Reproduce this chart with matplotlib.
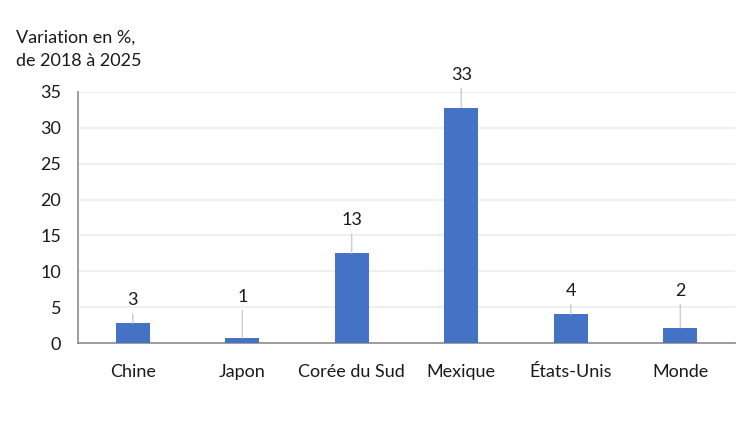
import matplotlib.pyplot as plt
import numpy as np

plt.rcParams['font.family'] = ['Lato', 'DejaVu Sans']

# données
pays = ['Chine', 'Japon', 'Corée du Sud', 'Mexique', 'États-Unis', 'Monde']
variation = [2.75, 0.7, 12.5, 32.8, 4.0, 2.1]
etiquettes = ['3', '1', '13', '33', '4', '2']

# décalage des étiquettes au-dessus des barres (pixels)
decalage = [23, 41, 33, 33, 23, 37]

fig = plt.figure(figsize=(7.5, 4.22), dpi=100)
ax = fig.add_axes([0.104, 0.1872, 0.876, 0.595])

x = np.arange(len(pays))
ax.bar(x, variation, width=0.31, color='#4472C4', zorder=3)

for xi, v, lab, d in zip(x, variation, etiquettes, decalage):
    ax.annotate(lab, xy=(xi, v), xytext=(0, d * 0.72), textcoords='offset points',
                ha='center', va='center', fontsize=13, color='#1a1a1a',
                arrowprops=dict(arrowstyle='-', color='#c8c8c8', lw=0.9,
                                shrinkA=2, shrinkB=0))

ax.set_xlim(-0.5, 5.5)
ax.set_ylim(0, 35)
ax.set_yticks(range(0, 36, 5))
ax.set_xticks(x)
ax.set_xticklabels(pays)
ax.tick_params(axis='both', length=0, labelsize=13, colors='#1a1a1a')
ax.tick_params(axis='x', pad=15)
ax.tick_params(axis='y', pad=12)
ax.grid(axis='y', color='#ececec', lw=1.2, zorder=0)

for s in ['top', 'right']:
    ax.spines[s].set_visible(False)
for s in ['left', 'bottom']:
    ax.spines[s].set_color('#8c8c8c')
    ax.spines[s].set_linewidth(1.2)

fig.text(0.022, 0.91, 'Variation en %,', fontsize=13, va='center', color='#1a1a1a')
fig.text(0.022, 0.855, 'de 2018 à 2025', fontsize=13, va='center', color='#1a1a1a')

fig.savefig('out.png', dpi=100)
